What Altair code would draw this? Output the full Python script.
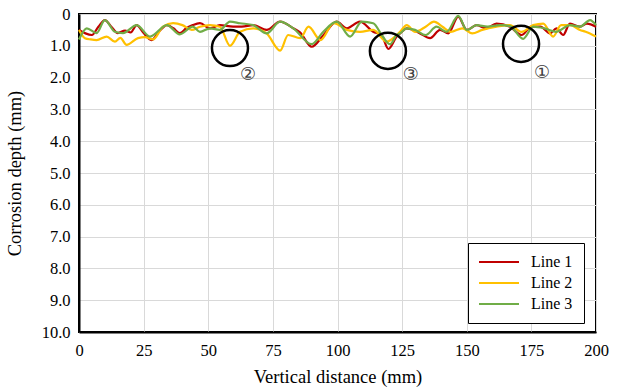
import altair as alt
import pandas as pd

# ---- data ----
red_x = [0, 2.5, 5, 7.5, 10, 12.5, 15, 17.8, 20, 22.3, 25, 28, 31, 34, 36.5, 39, 41.5, 44, 46.8, 50.7,
         54.5, 59.6, 63, 67.4, 72.6, 77.8, 82.9, 85.5, 90, 94.6, 99.7, 103.6, 108.7, 113.8, 117, 119.7,
         122.9, 124.2, 126.8, 131.9, 135.8, 139.7, 142.9, 146.7, 150, 153.8, 157.5, 161.5, 166.7, 171.2,
         175, 178.5, 182.2, 184.7, 187.3, 189.9, 193.8, 196.5, 200]
red_y = [0.5, 0.61, 0.66, 0.4, 0.19, 0.4, 0.6, 0.52, 0.58, 0.35, 0.6, 0.82, 0.55, 0.35, 0.45, 0.6, 0.45,
         0.35, 0.29, 0.45, 0.35, 0.4, 0.4, 0.35, 0.5, 0.24, 0.45, 0.58, 1.03, 0.66, 0.24, 0.45, 0.24, 0.56,
         0.66, 1.1, 0.71, 0.61, 0.45, 0.61, 0.76, 0.5, 0.61, 0.08, 0.5, 0.35, 0.45, 0.3, 0.4, 0.66, 0.4,
         0.4, 0.61, 0.45, 0.66, 0.3, 0.4, 0.3, 0.4]

yel_x = [0, 2.3, 4.5, 6.8, 10.7, 13.9, 16, 18.4, 22.8, 25.5, 28.6, 32.5, 36.4, 40, 43.6, 46.8, 50.7,
         54.5, 58.4, 62.3, 67.4, 72.6, 77.8, 80.9, 85.6, 88.8, 93.4, 98.5, 103.6, 108.7, 113.8, 119,
         122.9, 124.2, 126.8, 130, 134.1, 137.3, 140.6, 143.8, 148.3, 152.1, 156, 161.5, 166.7, 171.2,
         175.7, 179.6, 183.4, 186.5, 190, 193.8, 196, 200]
yel_y = [0.5, 0.76, 0.8, 0.82, 0.71, 0.87, 0.75, 0.97, 0.76, 0.73, 0.8, 0.4, 0.29, 0.35, 0.5, 0.4, 0.35,
         0.4, 1.0, 0.56, 0.45, 0.61, 1.15, 0.66, 0.76, 0.4, 0.82, 0.29, 0.5, 0.56, 0.5, 0.87, 0.66, 0.56,
         0.35, 0.56, 0.4, 0.24, 0.4, 0.56, 0.45, 0.61, 0.5, 0.4, 0.35, 0.56, 0.35, 0.3, 0.71, 0.35, 0.35,
         0.5, 0.56, 0.71]

grn_x = [0, 3, 6.8, 10, 13.9, 17, 22.3, 27.5, 34, 39, 44, 46.8, 50.7, 54.5, 58.4, 62.3, 67.4, 72.6,
         77.8, 82.9, 90, 94.6, 99.7, 104.9, 109.4, 113.8, 117.5, 120.3, 122.9, 124.2, 126.8, 130, 134.1,
         138.3, 142.2, 146.7, 150, 153.8, 158, 162.9, 166.7, 171.8, 175.7, 180, 184.7, 189.9, 193.8,
         197.7, 200]
grn_y = [0.8, 0.45, 0.6, 0.19, 0.56, 0.6, 0.35, 0.71, 0.35, 0.64, 0.4, 0.56, 0.45, 0.5, 0.24, 0.29, 0.35,
         0.61, 0.24, 0.45, 0.95, 0.55, 0.24, 0.71, 0.24, 0.29, 0.71, 0.95, 0.66, 0.61, 0.45, 0.5, 0.66, 0.4,
         0.56, 0.06, 0.5, 0.35, 0.4, 0.35, 0.38, 0.78, 0.4, 0.45, 0.56, 0.35, 0.4, 0.19, 0.35]

series_names = ["Line 1", "Line 2", "Line 3"]
series_colors = ["#C00000", "#FFC000", "#70AD47"]

circle_x = [58.4, 119.5, 171]
circle_y = [1.07, 1.16, 0.94]
label_x = [65.4, 128.4, 179.1]
label_y = [1.92, 1.92, 1.86]
label_text = ["②", "③", "①"]

x_ticks = [0, 25, 50, 75, 100, 125, 150, 175, 200]
y_ticks = [0, 1, 2, 3, 4, 5, 6, 7, 8, 9, 10]

# ---- tables ----
rows = []
for i, (xs, ys) in enumerate([(red_x, red_y), (yel_x, yel_y), (grn_x, grn_y)]):
    for x, y in zip(xs, ys):
        rows.append({"x": x, "y": y, "series": series_names[i], "ord": i})
lines_df = pd.DataFrame(rows)
circ_df = pd.DataFrame({"x": circle_x, "y": circle_y})
lab_df = pd.DataFrame({"x": label_x, "y": label_y, "t": label_text})

FONT = "Liberation Serif"

xscale = alt.Scale(domain=[0, 200], nice=False)
yscale = alt.Scale(domain=[0, 10], reverse=True, nice=False)

x_enc = alt.X("x:Q", scale=xscale,
              axis=alt.Axis(values=x_ticks, title="Vertical distance (mm)", labelPadding=10,
                            titlePadding=9, labelFlush=False, labelOverlap=False))
y_enc = alt.Y("y:Q", scale=yscale,
              axis=alt.Axis(values=y_ticks, tickCount=11, title="Corrosion depth (mm)",
                            labelExpr="datum.value == 0 ? '0' : format(datum.value, '.1f')",
                            labelPadding=9, titlePadding=17, labelOverlap=False, labelFlush=False))

lines = alt.Chart(lines_df).mark_line(interpolate="monotone", strokeWidth=2.2).encode(
    x=x_enc,
    y=y_enc,
    color=alt.Color("series:N", scale=alt.Scale(domain=series_names, range=series_colors),
                    legend=alt.Legend(title=None)),
    order="ord:Q",
    detail="series:N",
)

circles = alt.Chart(circ_df).mark_point(shape="circle", size=1300, strokeWidth=2.5,
                                         color="black", filled=False, opacity=1).encode(
    x=x_enc, y=y_enc)

labels = alt.Chart(lab_df).mark_text(fontSize=18, color="#404040", font="DejaVu Sans").encode(
    x=x_enc, y=y_enc, text="t:N")

chart = alt.layer(lines, circles, labels).properties(
    width=517, height=318,
    autosize=alt.AutoSizeParams(type="none"),
    padding={"left": 79, "top": 14, "right": 25, "bottom": 55},
).configure_view(stroke="black", strokeWidth=2).configure_axis(
    labelFont=FONT, titleFont=FONT, labelFontSize=16.5, titleFontSize=18.5,
    labelColor="black", titleColor="black", titleFontWeight="normal", labelOverlap=False,
    gridColor="#d9d9d9", gridWidth=1, domainColor="black", domainWidth=2, ticks=False,
).configure_legend(
    orient="none", legendX=389, legendY=229, strokeColor="black", fillColor="white",
    padding=11, symbolType="M-1.6,0H6.4", symbolSize=100, symbolStrokeWidth=2,
    labelFont=FONT, labelFontSize=16, labelColor="black", rowPadding=5, labelOffset=36,
    cornerRadius=0,
)

chart.save("out.html", embed_options={"renderer": "svg", "actions": False})
